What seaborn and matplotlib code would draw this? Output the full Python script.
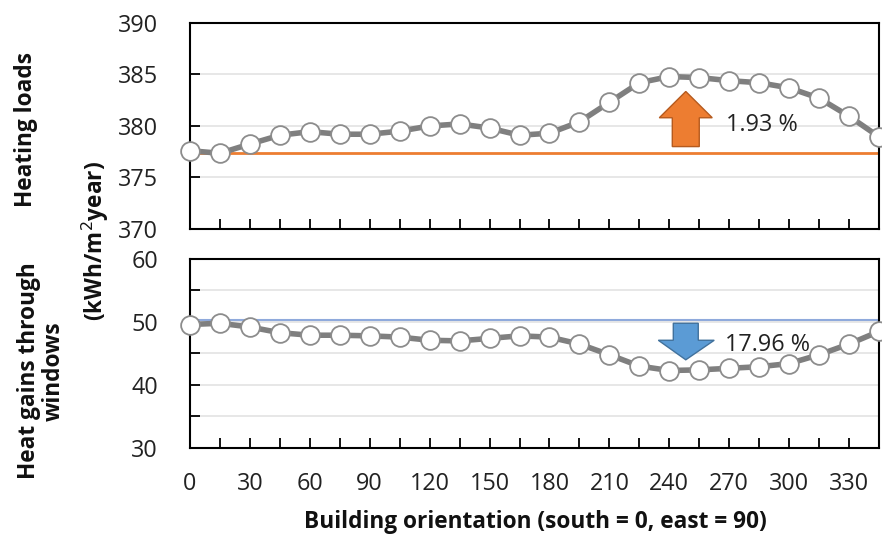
import numpy as np
import pandas as pd
import matplotlib
matplotlib.use("Agg")
import matplotlib.pyplot as plt
import seaborn as sns
from matplotlib.patches import Polygon

orientation = list(range(0, 360, 15))
heating_loads = [377.6, 377.35, 378.25, 379.1, 379.45, 379.2, 379.2, 379.5, 380.0, 380.2,
                 379.8, 379.1, 379.3, 380.4, 382.3, 384.2, 384.8, 384.7, 384.4, 384.2,
                 383.7, 382.7, 380.95, 378.95]
heat_gains = [49.6, 49.8, 49.2, 48.3, 47.9, 47.9, 47.8, 47.6, 47.1, 47.0,
              47.4, 47.8, 47.6, 46.5, 44.8, 43.0, 42.3, 42.4, 42.65, 42.9,
              43.4, 44.8, 46.5, 48.5]
heating_ref = 377.35
gains_ref = 50.3
heating_pct = "1.93 %"
gains_pct = "17.96 %"

sns.set_style("white")
plt.rcParams['font.family'] = ['Open Sans', 'DejaVu Sans']

df = pd.DataFrame({"orientation": orientation, "heating": heating_loads, "gains": heat_gains})

fig = plt.figure(figsize=(8.82, 5.36), dpi=100)
ax1 = fig.add_axes([0.2154, 0.5728, 0.7812, 0.3843])
ax2 = fig.add_axes([0.2154, 0.1642, 0.7812, 0.3526])

line_kw = dict(color="#7f7f7f", linewidth=4, marker="o", markersize=13.5,
               markerfacecolor="white", markeredgecolor="#8c8c8c", markeredgewidth=1.3)

TICK_FS = 16.8

def style_axes(ax, ylim, major, minor_grid):
    ax.set_xlim(0, 345)
    ax.set_ylim(*ylim)
    ax.set_xticks(range(0, 346, 15))
    for y in minor_grid:
        ax.axhline(y, color="#e3e3e3", lw=1.2, zorder=0)
    ax.set_yticks(major)
    for s in ax.spines.values():
        s.set_color("black")
        s.set_linewidth(1.5)
        s.set_visible(True)
    ax.tick_params(axis="x", direction="in", length=7, width=1.3, color="black", top=False, bottom=True)
    ax.tick_params(axis="y", direction="in", length=7, width=1.3, color="black", left=True, pad=23)
    ax.tick_params(labelsize=TICK_FS, labelcolor="#222222")
    ax.set_xlabel("")
    ax.set_ylabel("")

# Top panel
ax1.axhline(heating_ref, color="#ED7D31", lw=2, zorder=1)
sns.lineplot(data=df, x="orientation", y="heating", ax=ax1, zorder=3, clip_on=False, **line_kw)
style_axes(ax1, (370, 390), [370, 375, 380, 385, 390], [375, 380, 385])
ax1.tick_params(axis="x", labelbottom=False)

up = Polygon([(241.5, 378.0), (255, 378.0), (255, 380.8), (261.5, 380.8), (248.25, 383.35),
              (235, 380.8), (241.5, 380.8)], closed=True, facecolor="#ED7D31",
             edgecolor="#B55A1E", lw=1, zorder=4)
ax1.add_patch(up)
ax1.text(268.5, 380.1, heating_pct, fontsize=TICK_FS, va="center", ha="left", color="#222222")

# Bottom panel
ax2.axhline(gains_ref, color="#8FAADC", lw=1.5, zorder=1)
sns.lineplot(data=df, x="orientation", y="gains", ax=ax2, zorder=3, clip_on=False, **line_kw)
style_axes(ax2, (30, 60), [30, 35, 40, 45, 50, 55, 60], [35, 40, 45, 50, 55])
ax2.set_xticks(range(0, 346, 15))
ax2.set_xticklabels([str(v) if v % 30 == 0 else "" for v in range(0, 346, 15)])
ax2.set_yticklabels(["30", "", "40", "", "50", "", "60"])
ax2.tick_params(axis="x", pad=17)

down = Polygon([(242, 49.8), (254.5, 49.8), (254.5, 47.1), (262.5, 47.1), (248.25, 44.0),
                (234.5, 47.1), (242, 47.1)], closed=True, facecolor="#5B9BD5",
               edgecolor="#41719C", lw=1, zorder=4)
ax2.add_patch(down)
ax2.text(268, 46.4, gains_pct, fontsize=TICK_FS, va="center", ha="left", color="#222222")

LAB_FS = 16.3
fig.text(0.607, 0.026, "Building orientation (south = 0, east = 90)", ha="center", va="center",
         fontsize=LAB_FS, fontweight="bold", color="#111111")
fig.text(0.030, 0.758, "Heating loads", rotation=90, ha="center", va="center",
         fontsize=LAB_FS, fontweight="bold", color="#111111")
fig.text(0.047, 0.308, "Heat gains through\nwindows", rotation=90, ha="center", va="center",
         fontsize=LAB_FS, fontweight="bold", color="#111111", linespacing=1.05)
fig.text(0.108, 0.55, "(kWh/m$^{2}$year)", rotation=90, ha="center", va="center",
         fontsize=LAB_FS, fontweight="bold", color="#111111")

fig.savefig("out.png", dpi=100)
